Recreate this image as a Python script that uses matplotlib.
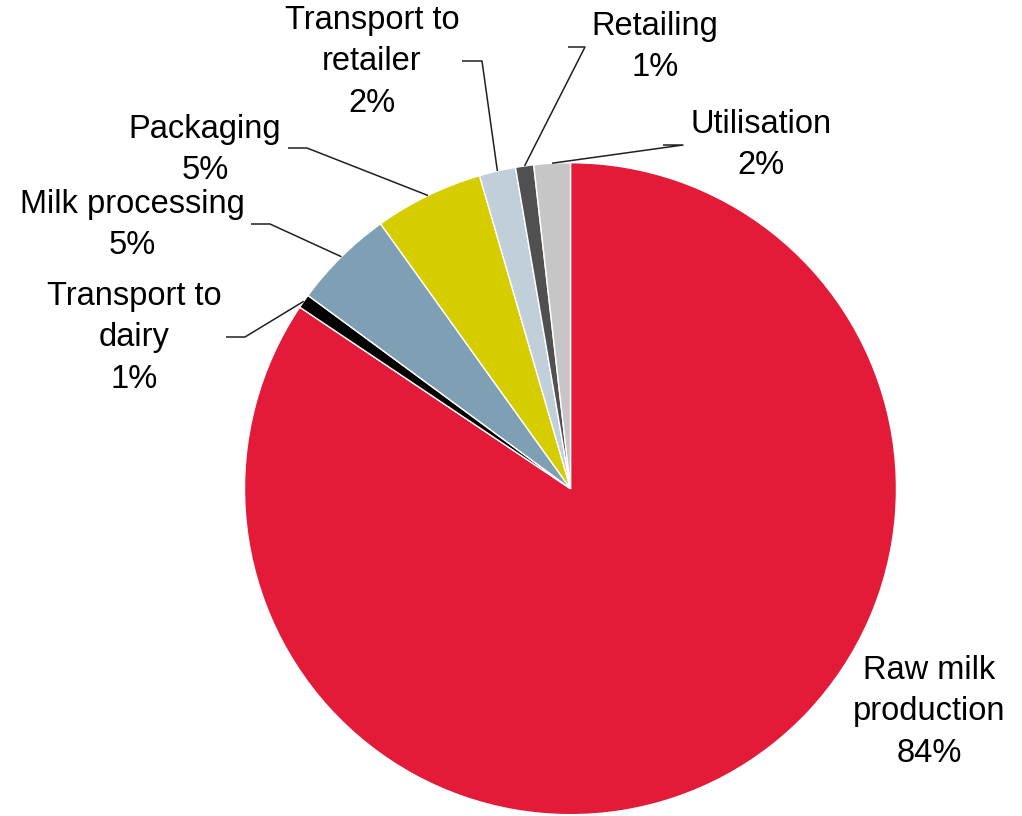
import numpy as np
import matplotlib
matplotlib.use("Agg")
import matplotlib.pyplot as plt

# share of the carbon footprint by life-cycle stage (percent)
stages = ["Raw milk\nproduction", "Transport to\ndairy", "Milk processing", "Packaging",
          "Transport to\nretailer", "Retailing", "Utilisation"]
shares = [84.4, 0.7, 5.0, 5.4, 1.8, 0.9, 1.8]
share_labels = ["84%", "1%", "5%", "5%", "2%", "1%", "2%"]
colors = ["#E31B38", "#000000", "#7FA0B4", "#D6CD00", "#C0CFDA", "#505050", "#C6C6C6"]

W, H = 1022, 816
CX, CY, R = 570.5, 488.7, 326.0


def px(x, y):
    # pixel position -> data units (pie radius = 1)
    return (x - CX) / R, (CY - y) / R


# label centre (px) and horizontal leader segment (x start, x end, y) in px; None = no leader
label_pos = [
    ((929, 712), None),
    ((134, 338), (226, 245, 337)),
    ((132, 225), (251, 270, 224)),
    ((205, 150), (288, 307, 148)),
    ((372, 62), (462, 482, 61)),
    ((655, 47), (568, 585, 47)),
    ((761, 145), (663, 683, 145)),
]

plt.rcParams["font.family"] = ["Liberation Sans", "DejaVu Sans"]

fig = plt.figure(figsize=(W / 100, H / 100), dpi=100)
ax = fig.add_axes([0, 0, 1, 1])

wedges, _ = ax.pie(shares, colors=colors, startangle=90, counterclock=False, radius=1,
                   wedgeprops=dict(edgecolor="white", linewidth=1.0))

for w, name, pct, (tpos, seg) in zip(wedges, stages, share_labels, label_pos):
    tx, ty = px(*tpos)
    ax.text(tx, ty, f"{name}\n{pct}", ha="center", va="center", fontsize=23.5,
            linespacing=1.45, color="black")
    if seg is None:
        continue
    mid = np.deg2rad((w.theta1 + w.theta2) / 2)
    ex, ey = np.cos(mid), np.sin(mid)
    x0, y0 = px(seg[0], seg[2])
    x1, _ = px(seg[1], seg[2])
    ax.plot([x0, x1, ex], [y0, y0, ey], color="#202020", lw=1.1, solid_capstyle="butt")

ax.set_aspect("equal")
ax.set_xlim(px(0, 0)[0], px(W, 0)[0])
ax.set_ylim(px(0, H)[1], px(0, 0)[1])
ax.axis("off")

fig.savefig("out.png", dpi=100)
